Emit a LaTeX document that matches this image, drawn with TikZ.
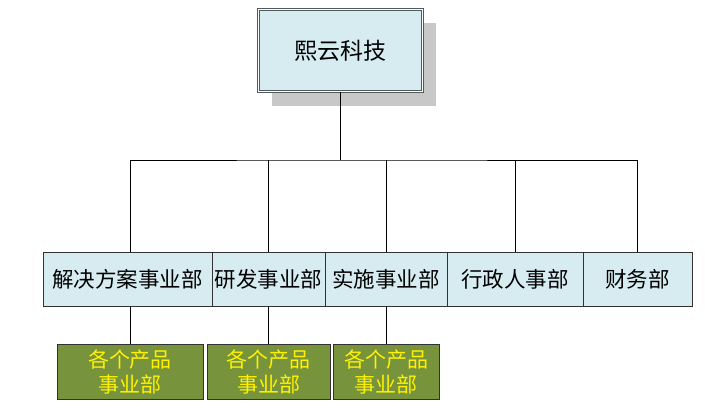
\documentclass[tikz,border=0pt]{standalone}
\usepackage{fontspec}
\newfontfamily\cjk{Noto Sans CJK SC}
\definecolor{boxblue}{RGB}{214,236,241}
\definecolor{boxgreen}{RGB}{119,147,60}
\definecolor{edgegray}{RGB}{50,50,50}
\definecolor{topedge}{RGB}{80,90,95}
\definecolor{shadowgray}{RGB}{200,200,200}
\begin{document}
\begin{tikzpicture}[x=1pt,y=-1pt,
  dept/.style={draw=edgegray,fill=boxblue,line width=0.8pt,inner sep=0pt,font=\cjk\fontsize{21.5}{23}\selectfont},
  prod/.style={draw=edgegray,fill=boxgreen,line width=0.8pt,inner sep=0pt,text=yellow,align=center,font=\cjk\fontsize{21}{25}\selectfont},
  link/.style={draw=black,line width=0.6pt}]
\useasboundingbox (0,0) rectangle (705,413);
% shadow of top box
\fill[shadowgray] (272,23) rectangle (436,106);
% top box
\node[draw=topedge,fill=boxblue,double=white,double distance=1.2pt,line width=1pt,minimum width=164pt,minimum height=82pt,inner sep=0pt,font=\cjk\fontsize{23}{25}\selectfont] (top) at (340.5,50.5) {熙云科技};
% departments
\node[dept,minimum width=169pt,minimum height=54pt] (d1) at (127.5,279) {解决方案事业部};
\node[dept,minimum width=113pt,minimum height=54pt] (d2) at (268.5,279) {研发事业部};
\node[dept,minimum width=122pt,minimum height=54pt] (d3) at (386,279) {实施事业部};
\node[dept,minimum width=136pt,minimum height=54pt] (d4) at (515,279) {行政人事部};
\node[dept,minimum width=109pt,minimum height=54pt] (d5) at (637.5,279) {财务部};
% product units
\node[prod,minimum width=146pt,minimum height=55pt] (p1) at (130,371.5) {各个产品\\事业部};
\node[prod,minimum width=123pt,minimum height=55pt] (p2) at (268.5,371.5) {各个产品\\事业部};
\node[prod,minimum width=106pt,minimum height=55pt] (p3) at (386,371.5) {各个产品\\事业部};
% connectors
\coordinate (bus) at (340.5,160);
\draw[link] (top.south) -- (bus);
\draw[link] (d1.north -| p1.north) |- (bus) -| (d5.north);
\draw[link] (d2.north) -- (d2.north |- bus);
\draw[link] (d3.north) -- (d3.north |- bus);
\draw[link] (d4.north) -- (d4.north |- bus);
\draw[link] (d1.south -| p1.north) -- (p1.north);
\draw[link] (d2.south) -- (p2.north);
\draw[link] (d3.south) -- (p3.north);
\end{tikzpicture}
\end{document}
